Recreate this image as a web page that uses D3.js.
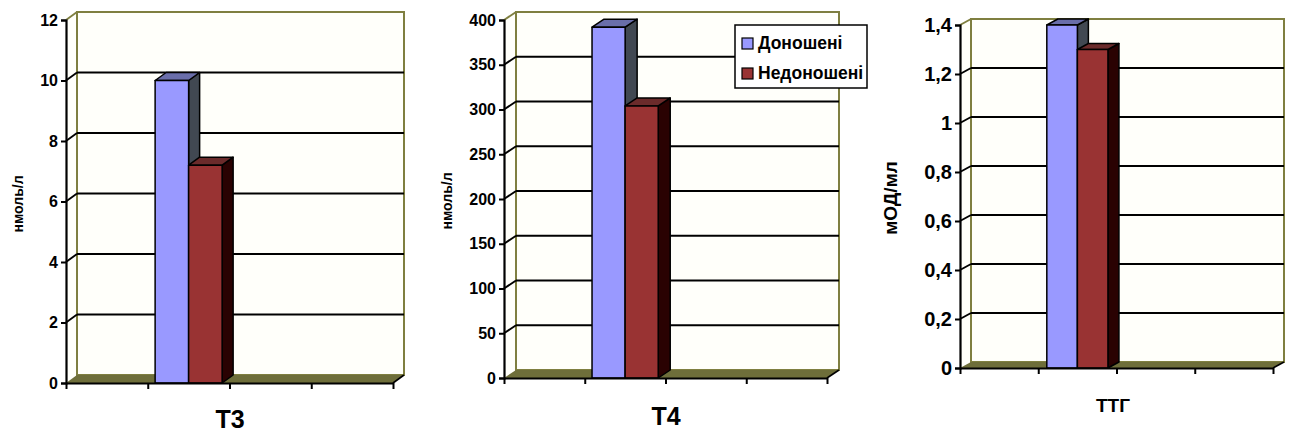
<!DOCTYPE html>
<html>
<head>
<meta charset="utf-8">
<script src="https://cdn.jsdelivr.net/npm/d3@7"></script>
<style>
  html, body { margin: 0; padding: 0; background: #ffffff; }
  svg { display: block; font-family: "Liberation Sans", Arial, sans-serif; font-weight: bold; }
</style>
</head>
<body>
<svg id="chart" width="1290" height="432"></svg>
<script>
// ---- data ----
const panelNames = ["T3", "T4", "ТТГ"];
const seriesNames = ["Доношені", "Недоношені"];
const fullTerm = [10, 392, 1.4];
const preterm = [7.2, 304, 1.3];
const yUnits = ["нмоль/л", "нмоль/л", "мОД/мл"];
const yTicksT3 = [0, 2, 4, 6, 8, 10, 12];
const yTicksT4 = [0, 50, 100, 150, 200, 250, 300, 350, 400];
const yTicksTTG = [0, 0.2, 0.4, 0.6, 0.8, 1, 1.2, 1.4];
const xSlots = [0, 1, 2, 3];   // category slots on the x axis; data sits in slot 1

// ---- layout (styles / positions) ----
const layout = [
  { x0: 66,  x1: 393,  y0: 383, yTop: 20, dx: 11, dy: -8, pad: 0.22, tickFont: 16, unitFont: 14, unitX: 19,  unitY: 204, titleFont: 25, titleX: 230,  titleY: 428, ticks: yTicksT3 },
  { x0: 504, x1: 827,  y0: 378, yTop: 20, dx: 12, dy: -8, pad: 0.22, tickFont: 16, unitFont: 14, unitX: 448, unitY: 201, titleFont: 25, titleX: 666,  titleY: 425, ticks: yTicksT4 },
  { x0: 960, x1: 1273, y0: 368, yTop: 25, dx: 11, dy: -6, pad: 0.28, tickFont: 20, unitFont: 19, unitX: 892, unitY: 198, titleFont: 19, titleX: 1113, titleY: 412, ticks: yTicksTTG }
];
const colors = {
  front: ["#9999ff", "#993333"],
  top:   ["#6a6eaa", "#6b2b2b"],
  side:  ["#414852", "#2a0202"],
  wall: "#fffffa",
  wallEdge: "#7f7f40",
  floor: "#6e6e3a"
};

const svg = d3.select("#chart");
const fmt = v => d3.format("~g")(v).replace(".", ",");

panelNames.forEach((name, i) => {
  const L = layout[i];
  const vals = [fullTerm[i], preterm[i]];
  const g = svg.append("g");
  const ticks = L.ticks;
  const yMax = ticks[ticks.length - 1];
  const y = d3.scaleLinear().domain([0, yMax]).range([L.y0, L.yTop]);
  const x = d3.scaleBand().domain(xSlots).range([L.x0, L.x1]).paddingInner(0).paddingOuter(0);
  const xs = d3.scaleBand().domain([0, 1]).range([0, x.bandwidth()]).paddingOuter(L.pad).paddingInner(0);
  const dx = L.dx, dy = L.dy;
  const bx0 = L.x0 + dx, bx1 = L.x1 + dx;

  // side wall
  g.append("path")
    .attr("d", `M${L.x0},${y(yMax)}L${bx0},${y(yMax) + dy}L${bx0},${L.y0 + dy}L${L.x0},${L.y0}Z`)
    .attr("fill", colors.wall);
  // back wall
  g.append("rect")
    .attr("x", bx0).attr("y", y(yMax) + dy)
    .attr("width", bx1 - bx0).attr("height", L.y0 - y(yMax))
    .attr("fill", colors.wall)
    .attr("stroke", colors.wallEdge).attr("stroke-width", 2);

  // gridlines (back wall + side diagonal)
  ticks.filter(t => t > 0 && t < yMax).forEach(t => {
    g.append("line")
      .attr("x1", bx0).attr("x2", bx1)
      .attr("y1", y(t) + dy).attr("y2", y(t) + dy)
      .attr("stroke", "#000").attr("stroke-width", 1.9);
  });
  ticks.filter(t => t > 0).forEach(t => {
    g.append("line")
      .attr("x1", L.x0).attr("x2", bx0)
      .attr("y1", y(t)).attr("y2", y(t) + dy)
      .attr("stroke", t === yMax ? colors.wallEdge : "#000").attr("stroke-width", 1.9);
  });

  // floor
  g.append("path")
    .attr("d", `M${L.x0},${L.y0}L${L.x1},${L.y0}L${bx1},${L.y0 + dy}L${bx0},${L.y0 + dy}Z`)
    .attr("fill", colors.floor);
  g.append("line")
    .attr("x1", L.x1).attr("y1", L.y0).attr("x2", bx1).attr("y2", L.y0 + dy)
    .attr("stroke", "#000").attr("stroke-width", 1.6);

  // bars
  vals.forEach((v, s) => {
    const bx = x(1) + xs(s);
    const bw = xs.bandwidth();
    const yv = y(v);
    const bars = g.append("g").attr("stroke", "#000").attr("stroke-width", 1.5).attr("stroke-linejoin", "round");
    bars.append("path")
      .attr("d", `M${bx + bw},${yv}L${bx + bw + dx},${yv + dy}L${bx + bw + dx},${L.y0 + dy}L${bx + bw},${L.y0}Z`)
      .attr("fill", colors.side[s]);
    bars.append("path")
      .attr("d", `M${bx},${yv}L${bx + dx},${yv + dy}L${bx + bw + dx},${yv + dy}L${bx + bw},${yv}Z`)
      .attr("fill", colors.top[s]);
    bars.append("rect")
      .attr("x", bx).attr("y", yv).attr("width", bw).attr("height", L.y0 - yv)
      .attr("fill", colors.front[s]);
  });

  // y axis
  const yAxis = d3.axisLeft(y).tickValues(ticks).tickFormat(fmt).tickSize(5).tickPadding(3);
  const ya = g.append("g").attr("transform", `translate(${L.x0},0)`).call(yAxis);
  ya.select(".domain").attr("stroke", "#000").attr("stroke-width", 2.2);
  ya.selectAll(".tick line").attr("stroke", "#000").attr("stroke-width", 2);
  ya.selectAll(".tick text")
    .attr("font-size", L.tickFont).attr("font-weight", "bold")
    .attr("font-family", "Liberation Sans, Arial, sans-serif").attr("fill", "#000");

  // x axis
  const xAxis = d3.axisBottom(d3.scaleLinear().domain([0, xSlots.length]).range([L.x0, L.x1]))
    .tickValues(d3.range(0, xSlots.length + 1)).tickFormat("").tickSize(6).tickSizeOuter(0);
  const xa = g.append("g").attr("transform", `translate(0,${L.y0})`).call(xAxis);
  xa.select(".domain").attr("stroke", "#000").attr("stroke-width", 2.2);
  xa.selectAll(".tick line").attr("stroke", "#000").attr("stroke-width", 2);

  // axis titles
  g.append("text")
    .attr("transform", `translate(${L.unitX},${L.unitY}) rotate(-90)`)
    .attr("text-anchor", "middle").attr("dominant-baseline", "middle")
    .attr("font-size", L.unitFont).attr("font-weight", "bold")
    .text(yUnits[i]);
  g.append("text")
    .attr("x", L.titleX).attr("y", L.titleY)
    .attr("text-anchor", "middle")
    .attr("font-size", L.titleFont).attr("font-weight", "bold")
    .text(name);
});

// legend
const lg = svg.append("g").attr("transform", "translate(735,25)");
lg.append("rect").attr("x", 0).attr("y", 0).attr("width", 132).attr("height", 63)
  .attr("fill", "#fff").attr("stroke", "#000").attr("stroke-width", 1.5);
seriesNames.forEach((n, s) => {
  const row = lg.append("g").attr("transform", `translate(7,${13 + s * 30})`);
  row.append("rect").attr("x", 0).attr("y", 0).attr("width", 11).attr("height", 11)
    .attr("fill", colors.front[s]).attr("stroke", "#000").attr("stroke-width", 1.2);
  row.append("text").attr("x", 16).attr("y", 6).attr("dominant-baseline", "middle")
    .attr("font-size", 17.5).attr("font-weight", "bold").text(n);
});
</script>
</body>
</html>
